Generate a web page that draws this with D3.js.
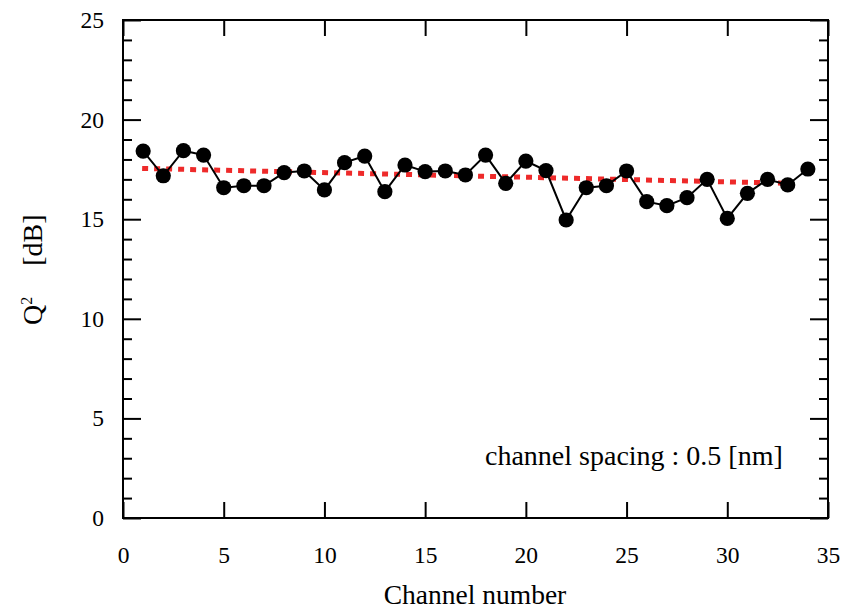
<!DOCTYPE html>
<html>
<head>
<meta charset="utf-8">
<script src="https://cdn.jsdelivr.net/npm/d3@7"></script>
<style>
  html, body { margin: 0; padding: 0; background: #fff; }
</style>
</head>
<body>
<svg id="chart" width="843" height="610"></svg>
<script>
// Q^2 per WDM channel
const channels = [1, 2, 3, 4, 5, 6, 7, 8, 9, 10, 11, 12, 13, 14, 15, 16, 17,
                  18, 19, 20, 21, 22, 23, 24, 25, 26, 27, 28, 29, 30, 31, 32, 33, 34];
const q2Values = [18.42, 17.18, 18.44, 18.22, 16.58, 16.68, 16.68, 17.34, 17.42, 16.47, 17.84, 18.17, 16.38, 17.72, 17.39, 17.42, 17.22,
                  18.22, 16.80, 17.92, 17.44, 14.96, 16.58, 16.68, 17.42, 15.88, 15.68, 16.08, 17.00, 15.04, 16.30, 17.00, 16.72, 17.52];
// linear trend line end points
const trendChannels = [0.95, 33.2];
const trendValues = [17.55, 16.80];

const xTicks = [0, 5, 10, 15, 20, 25, 30, 35];
const yTicks = [0, 5, 10, 15, 20, 25];
const yMinorTicks = d3.range(0, 26, 1);

const FONT = "'Liberation Serif'";

const svg = d3.select("#chart");
const plotL = 123, plotR = 828, plotT = 20, plotB = 518;

const x = d3.scaleLinear().domain([0, 35]).range([plotL, plotR]);
const y = d3.scaleLinear().domain([0, 25]).range([plotB, plotT]);

const g = svg.append("g");

// frame
g.append("rect")
  .attr("x", plotL).attr("y", plotT)
  .attr("width", plotR - plotL).attr("height", plotB - plotT)
  .attr("fill", "none").attr("stroke", "#000").attr("stroke-width", 2);

function styleAxis(sel) {
  sel.attr("font-family", null).attr("font-size", null);
  sel.select(".domain").remove();
  sel.selectAll(".tick line").attr("stroke", "#000").attr("stroke-width", 2);
  sel.selectAll(".tick text").attr("fill", "#000")
    .style("font-family", FONT)
    .style("font-size", "23.5px");
}

// bottom axis with labels, ticks pointing inward
g.append("g").attr("transform", `translate(0,${plotB})`)
  .call(d3.axisBottom(x).tickValues(xTicks).tickSizeInner(-16).tickSizeOuter(0).tickPadding(28))
  .call(styleAxis);
// top axis, ticks only
g.append("g").attr("transform", `translate(0,${plotT})`)
  .call(d3.axisTop(x).tickValues(xTicks).tickSizeInner(-16).tickSizeOuter(0).tickFormat(""))
  .call(styleAxis);

// left axis minor + major
g.append("g").attr("transform", `translate(${plotL},0)`)
  .call(d3.axisLeft(y).tickValues(yMinorTicks.filter(v => v % 5 !== 0)).tickSizeInner(-9).tickSizeOuter(0).tickFormat(""))
  .call(styleAxis);
g.append("g").attr("transform", `translate(${plotL},0)`)
  .call(d3.axisLeft(y).tickValues(yTicks).tickSizeInner(-18).tickSizeOuter(0).tickPadding(19))
  .call(styleAxis);
// right axis minor + major
g.append("g").attr("transform", `translate(${plotR},0)`)
  .call(d3.axisRight(y).tickValues(yMinorTicks.filter(v => v % 5 !== 0)).tickSizeInner(-9).tickSizeOuter(0).tickFormat(""))
  .call(styleAxis);
g.append("g").attr("transform", `translate(${plotR},0)`)
  .call(d3.axisRight(y).tickValues(yTicks).tickSizeInner(-18).tickSizeOuter(0).tickFormat(""))
  .call(styleAxis);

// trend line (red dotted)
g.append("path")
  .datum(trendChannels.map((c, i) => [c, trendValues[i]]))
  .attr("d", d3.line().x(d => x(d[0])).y(d => y(d[1])))
  .attr("fill", "none").attr("stroke", "#ee2a2a")
  .attr("stroke-width", 5).attr("stroke-dasharray", "6,6");

// data line
const pts = channels.map((c, i) => [c, q2Values[i]]);
g.append("path")
  .datum(pts)
  .attr("d", d3.line().x(d => x(d[0])).y(d => y(d[1])))
  .attr("fill", "none").attr("stroke", "#000").attr("stroke-width", 2);

// markers
g.selectAll("circle.pt").data(pts).enter().append("circle")
  .attr("class", "pt")
  .attr("cx", d => x(d[0])).attr("cy", d => y(d[1]))
  .attr("r", 7.6).attr("fill", "#000");

// annotation
svg.append("text")
  .attr("x", 485).attr("y", 465)
  .style("font-family", FONT)
  .style("font-size", "28px")
  .text("channel spacing : 0.5 [nm]");

// x axis title
svg.append("text")
  .attr("x", 475).attr("y", 604)
  .attr("text-anchor", "middle")
  .style("font-family", FONT)
  .style("font-size", "27.5px")
  .text("Channel number");

// y axis title
const yt = svg.append("text")
  .attr("transform", "translate(42,325) rotate(-90)")
  .attr("text-anchor", "start")
  .style("font-family", FONT)
  .style("font-size", "28px");
yt.append("tspan").text("Q");
yt.append("tspan").attr("dy", -10).style("font-size", "16px").text("2");
yt.append("tspan").attr("dy", 10).attr("dx", 31).text("[dB]");
</script>
</body>
</html>
